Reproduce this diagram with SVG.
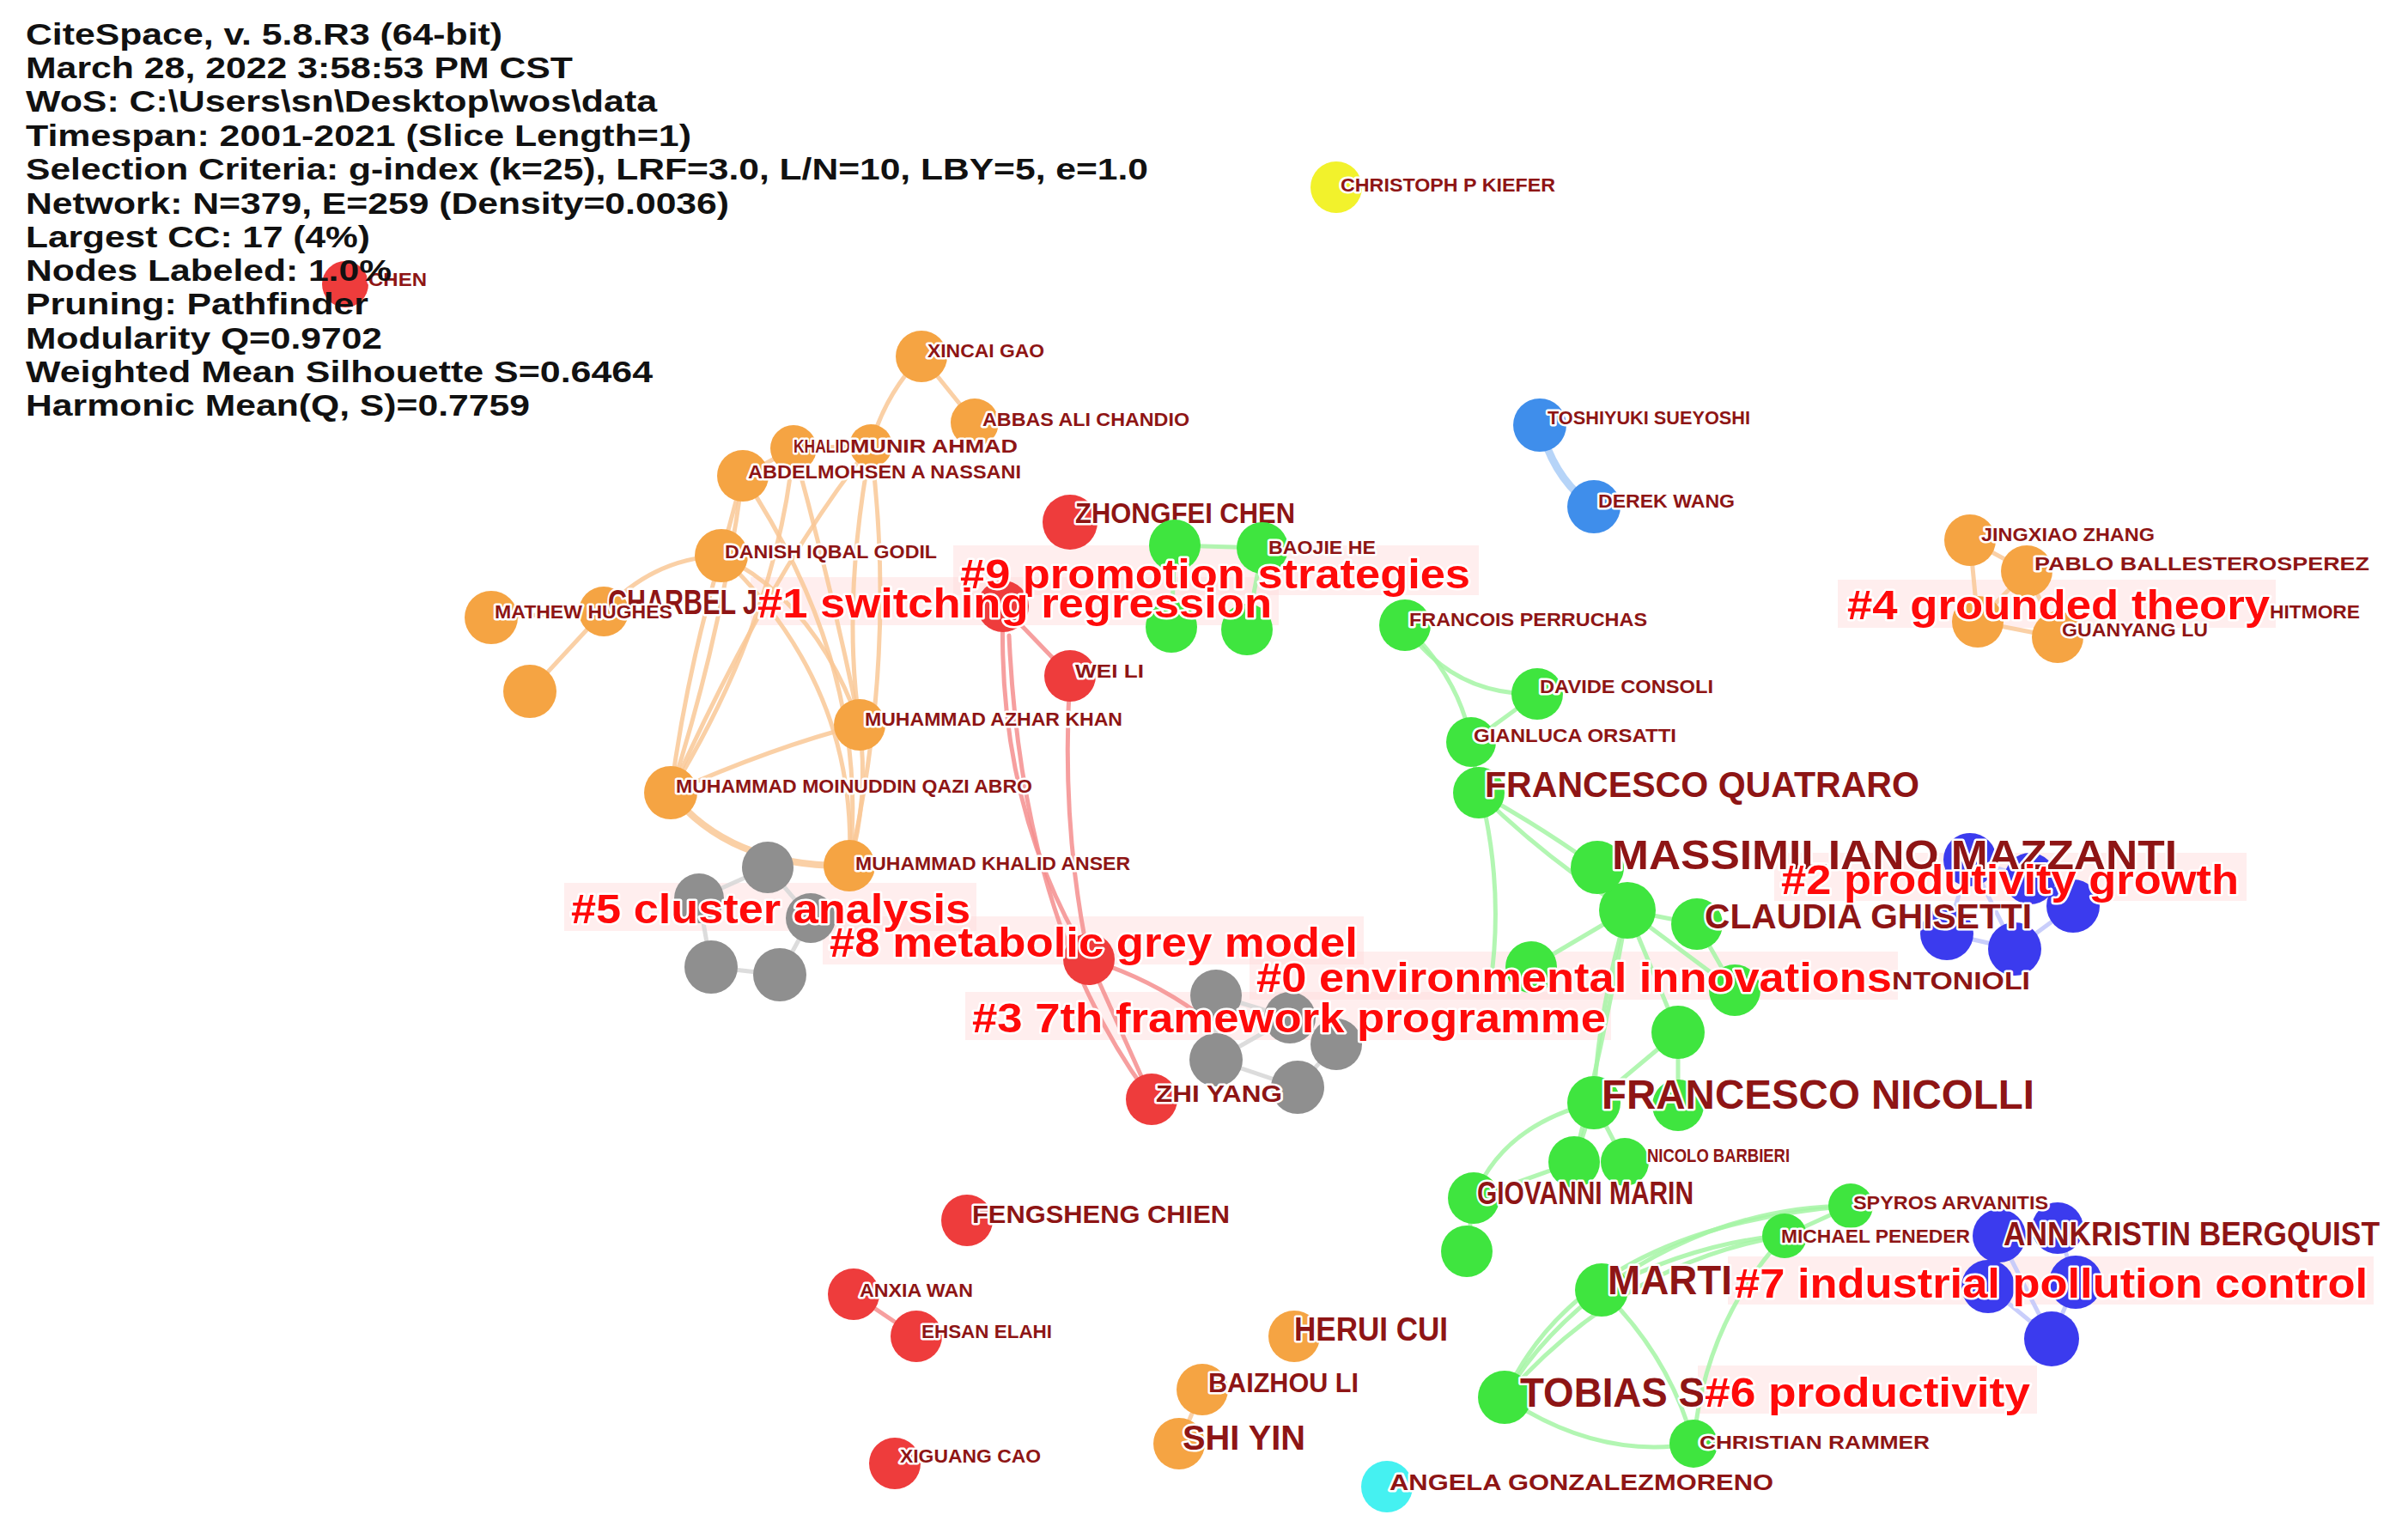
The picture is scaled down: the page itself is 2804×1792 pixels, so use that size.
<svg xmlns="http://www.w3.org/2000/svg" width="2804" height="1792" viewBox="0 0 2804 1792">
<style>
.bg{fill:#fff}
.e{fill:none;stroke-width:5;stroke-linecap:round;opacity:.85}
.eo{stroke:#F9C896}.er{stroke:#F58E8E}.eg{stroke:#A4F4A4}.eb{stroke:#BFC6FA}.elb{stroke:#A9CDF7;stroke-width:9}.ek{stroke:#D6D6D6}
.no{fill:#F5A443}.nr{fill:#EE3C3C}.ng{fill:#3FE53F}.nb{fill:#3B3BEE}.nlb{fill:#3F8EEB}.ny{fill:#F2F22C}.nc{fill:#45F1F1}.nk{fill:#8F8F8F}
.lab{font-family:"Liberation Sans",Arial,sans-serif;fill:#8E1515;stroke:#fff;stroke-width:5;stroke-linejoin:round;paint-order:stroke}
.s{font-size:22px;font-weight:bold}
.m{font-weight:bold}
.L{font-weight:bold}
.cl{font-family:"Liberation Sans",Arial,sans-serif;font-size:48px;font-weight:bold;fill:#FF0A0A;stroke:#fff;stroke-width:5;stroke-linejoin:round;paint-order:stroke}
.band{fill:#FFDADA;opacity:.45}
.hd{font-family:"Liberation Sans",Arial,sans-serif;font-size:35px;font-weight:bold;fill:#111}
</style>
<rect class="bg" x="0" y="0" width="2804" height="1792"/>

<g id="bands">
<rect class="band" x="1110" y="635" width="612" height="58"/>
<rect class="band" x="874" y="672" width="615" height="56"/>
<rect class="band" x="2140" y="675" width="510" height="56"/>
<rect class="band" x="2066" y="993" width="550" height="56"/>
<rect class="band" x="657" y="1028" width="480" height="56"/>
<rect class="band" x="958" y="1067" width="630" height="56"/>
<rect class="band" x="1455" y="1108" width="755" height="56"/>
<rect class="band" x="1124" y="1155" width="752" height="56"/>
<rect class="band" x="2012" y="1463" width="752" height="56"/>
<rect class="band" x="1977" y="1590" width="395" height="56"/>
</g>

<g id="connectors">
<path class="e eo" d="M1073,415 L1135,492"/>
<path class="e eo" d="M1073,415 Q1030,460 1014,519"/>
<path class="e eo" d="M1014,519 Q1045,760 989,1008"/>
<path class="e eo" d="M924,522 Q970,690 1001,844"/>
<path class="e eo" d="M865,554 Q1015,780 989,1008"/>
<path class="e eo" d="M865,554 Q840,740 781,923"/>
<path class="e eo" d="M924,522 Q905,720 781,923"/>
<path class="e eo" d="M1014,519 Q900,660 781,923"/>
<path class="e eo" d="M840,647 Q950,700 1001,844"/>
<path class="e eo" d="M840,647 Q1000,800 989,1008"/>
<path class="e eo" style="stroke-width:8" d="M781,923 Q850,1010 989,1008"/>
<path class="e eo" d="M781,923 Q800,780 840,647"/>
<path class="e eo" d="M1001,844 Q1012,930 989,1008"/>
<path class="e eo" d="M703,712 Q760,650 840,647"/>
<path class="e eo" d="M703,712 L617,805"/>
<path class="e eo" d="M572,719 L703,712"/>
<path class="e eo" d="M865,554 L924,522 L1014,519"/>
<path class="e eo" d="M865,554 L840,647"/>
<path class="e eo" d="M1001,844 Q900,870 781,923"/>
<path class="e eo" d="M1014,519 Q980,700 1001,844"/>
<path class="e er" d="M1168,706 L1246,787"/>
<path class="e er" d="M1168,706 Q1160,940 1268,1117"/>
<path class="e er" d="M1246,787 Q1235,960 1268,1117"/>
<path class="e er" d="M1175,740 Q1190,1080 1341,1280"/>
<path class="e er" d="M1268,1117 L1341,1280"/>
<path class="e er" d="M1268,1117 Q1340,1140 1395,1180"/>
<path class="e er" d="M994,1507 L1067,1556"/>
<path class="e eg" d="M1368,635 L1470,638"/>
<path class="e eg" d="M1368,635 L1364,730"/>
<path class="e eg" d="M1470,638 L1452,733"/>
<path class="e eg" d="M1636,728 Q1690,810 1790,808"/>
<path class="e eg" d="M1636,728 Q1700,790 1713,864"/>
<path class="e eg" d="M1790,808 L1713,864"/>
<path class="e eg" d="M1713,864 L1722,923"/>
<path class="e eg" d="M1722,923 Q1790,960 1860,1010"/>
<path class="e eg" d="M1722,923 Q1800,1000 1895,1060"/>
<path class="e eg" d="M1730,950 Q1750,1050 1735,1150"/>
<path class="e eg" d="M1860,1010 L1895,1060"/>
<path class="e eg" d="M1895,1060 L1976,1076"/>
<path class="e eg" d="M1895,1060 L1783,1126"/>
<path class="e eg" d="M1895,1060 L1954,1202"/>
<path class="e eg" d="M1895,1060 Q1860,1180 1856,1284"/>
<path class="e eg" d="M1895,1060 L2020,1153"/>
<path class="e eg" d="M1976,1076 L2020,1153"/>
<path class="e eg" d="M1954,1202 L1856,1284"/>
<path class="e eg" d="M1954,1202 L1954,1287"/>
<path class="e eg" d="M1856,1284 L1833,1353"/>
<path class="e eg" d="M1856,1284 L1892,1353"/>
<path class="e eg" d="M1856,1284 Q1750,1310 1716,1395"/>
<path class="e eg" d="M1833,1353 L1716,1395"/>
<path class="e eg" d="M1716,1395 L1708,1457"/>
<path class="e eg" d="M1895,1060 Q1870,1200 1833,1353"/>
<path class="e eg" d="M1865,1502 Q2000,1405 2155,1404"/>
<path class="e eg" d="M1865,1502 Q1980,1445 2078,1439"/>
<path class="e eg" d="M1865,1502 Q1790,1560 1752,1627"/>
<path class="e eg" d="M1865,1502 Q1945,1580 1972,1681"/>
<path class="e eg" d="M1752,1627 Q1840,1430 2155,1404"/>
<path class="e eg" d="M1752,1627 Q1890,1470 2078,1439"/>
<path class="e eg" d="M1752,1627 Q1860,1700 1972,1681"/>
<path class="e eg" d="M2155,1404 L2078,1439"/>
<path class="e eg" d="M1972,1681 Q1985,1540 2078,1439"/>
<path class="e elb" d="M1793,495 Q1810,560 1856,590"/>
<path class="e eb" d="M2294,1001 L2364,1023 L2414,1055 L2346,1105 L2267,1087 L2294,1001"/>
<path class="e eb" d="M2294,1001 L2346,1105"/>
<path class="e eb" d="M2328,1439 L2396,1430 L2417,1493 L2389,1559 L2315,1498 L2328,1439"/>
<path class="e eb" d="M2328,1439 L2389,1559"/>
<path class="e ek" d="M894,1010 L814,1046 L828,1126 L908,1135 L944,1069 L894,1010"/>
<path class="e ek" d="M1416,1159 L1502,1185 L1556,1216 L1511,1266 L1416,1234 L1416,1159"/>
<path class="e ek" d="M1502,1185 L1416,1234"/>
<path class="e eo" d="M2294,629 L2360,665 L2396,742 L2303,724 L2294,629"/>
<path class="e eo" d="M2360,665 L2303,724"/>
<path class="e eo" d="M1400,1618 L1373,1681"/>
</g>

<g id="node-b2a"><circle class="nb" cx="2294" cy="1001" r="31"/></g>
<g id="node-b2b"><circle class="nb" cx="2364" cy="1023" r="30"/></g>
<g id="node-b2c"><circle class="nb" cx="2414" cy="1055" r="31"/></g>
<g id="node-b2d"><circle class="nb" cx="2267" cy="1087" r="31"/></g>
<g id="node-b2e"><circle class="nb" cx="2346" cy="1105" r="31"/></g>
<g id="node-b7a"><circle class="nb" cx="2328" cy="1439" r="31"/></g>
<g id="node-b7b"><circle class="nb" cx="2396" cy="1430" r="30"/></g>
<g id="node-b7c"><circle class="nb" cx="2315" cy="1498" r="31"/></g>
<g id="node-b7d"><circle class="nb" cx="2417" cy="1493" r="31"/></g>
<g id="node-b7e"><circle class="nb" cx="2389" cy="1559" r="32"/></g>
<g id="node-k5a"><circle class="nk" cx="894" cy="1010" r="30"/></g>
<g id="node-k5b"><circle class="nk" cx="814" cy="1046" r="29"/></g>
<g id="node-k5c"><circle class="nk" cx="944" cy="1069" r="29"/></g>
<g id="node-k5d"><circle class="nk" cx="828" cy="1126" r="31"/></g>
<g id="node-k5e"><circle class="nk" cx="908" cy="1135" r="31"/></g>
<g id="node-k3a"><circle class="nk" cx="1416" cy="1159" r="30"/></g>
<g id="node-k3b"><circle class="nk" cx="1502" cy="1185" r="30"/></g>
<g id="node-k3c"><circle class="nk" cx="1556" cy="1216" r="30"/></g>
<g id="node-k3d"><circle class="nk" cx="1416" cy="1234" r="31"/></g>
<g id="node-k3e"><circle class="nk" cx="1511" cy="1266" r="31"/></g>

<g id="node-chen"><circle class="nr" cx="402" cy="331" r="27"/><text class="lab s" x="429" y="333" textLength="68" lengthAdjust="spacingAndGlyphs">CHEN</text></g>
<g id="node-kiefer"><circle class="ny" cx="1556" cy="218" r="30"/><text class="lab s" x="1561" y="223" textLength="250" lengthAdjust="spacingAndGlyphs">CHRISTOPH P KIEFER</text></g>
<g id="node-sueyoshi"><circle class="nlb" cx="1793" cy="495" r="31"/><text class="lab s" x="1802" y="494" textLength="236" lengthAdjust="spacingAndGlyphs">TOSHIYUKI SUEYOSHI</text></g>
<g id="node-derekwang"><circle class="nlb" cx="1856" cy="590" r="31"/><text class="lab s" x="1861" y="591" textLength="159" lengthAdjust="spacingAndGlyphs">DEREK WANG</text></g>

<g id="node-xincaigao"><circle class="no" cx="1073" cy="415" r="30"/><text class="lab s" x="1080" y="416" textLength="136" lengthAdjust="spacingAndGlyphs">XINCAI GAO</text></g>
<g id="node-abbas"><circle class="no" cx="1135" cy="492" r="28"/><text class="lab s" x="1144" y="496" textLength="241" lengthAdjust="spacingAndGlyphs">ABBAS ALI CHANDIO</text></g>
<g id="node-khalid"><circle class="no" cx="924" cy="522" r="27"/></g>
<g id="node-munir"><circle class="no" cx="1014" cy="519" r="25"/></g>
<g id="node-abdelmohsen"><circle class="no" cx="865" cy="554" r="30"/></g>
<g id="labels-top-orange">
<text class="lab s" x="924" y="527" textLength="66" lengthAdjust="spacingAndGlyphs">KHALID</text>
<text class="lab s" x="990" y="527" textLength="195" lengthAdjust="spacingAndGlyphs">MUNIR AHMAD</text>
<text class="lab s" x="871" y="557" textLength="318" lengthAdjust="spacingAndGlyphs">ABDELMOHSEN A NASSANI</text>
</g>
<g id="node-danish"><circle class="no" cx="840" cy="647" r="31"/><text class="lab s" x="844" y="650" textLength="247" lengthAdjust="spacingAndGlyphs">DANISH IQBAL GODIL</text></g>
<g id="node-charbel"><circle class="no" cx="703" cy="712" r="29"/><text class="lab L" x="708" y="715" font-size="40" textLength="174" lengthAdjust="spacingAndGlyphs">CHARBEL J</text></g>
<g id="node-mathew"><circle class="no" cx="572" cy="719" r="31"/><text class="lab s" x="576" y="720" textLength="207" lengthAdjust="spacingAndGlyphs">MATHEW HUGHES</text></g>
<g id="node-orange-x"><circle class="no" cx="617" cy="805" r="31"/></g>
<g id="node-azhar"><circle class="no" cx="1001" cy="844" r="30"/><text class="lab s" x="1007" y="845" textLength="300" lengthAdjust="spacingAndGlyphs">MUHAMMAD AZHAR KHAN</text></g>
<g id="node-moinuddin"><circle class="no" cx="781" cy="923" r="31"/><text class="lab s" x="787" y="923" textLength="415" lengthAdjust="spacingAndGlyphs">MUHAMMAD MOINUDDIN QAZI ABRO</text></g>
<g id="node-anser"><circle class="no" cx="989" cy="1008" r="30"/><text class="lab s" x="996" y="1013" textLength="320" lengthAdjust="spacingAndGlyphs">MUHAMMAD KHALID ANSER</text></g>

<g id="node-zhongfei"><circle class="nr" cx="1246" cy="608" r="32"/><text class="lab m" x="1252" y="609" font-size="34" textLength="256" lengthAdjust="spacingAndGlyphs">ZHONGFEI CHEN</text></g>
<g id="node-red1"><circle class="nr" cx="1168" cy="706" r="30"/></g>
<g id="node-weili"><circle class="nr" cx="1246" cy="787" r="30"/><text class="lab s" x="1252" y="789" textLength="80" lengthAdjust="spacingAndGlyphs">WEI LI</text></g>
<g id="node-red3"><circle class="nr" cx="1268" cy="1117" r="30"/></g>

<g id="node-g9a"><circle class="ng" cx="1368" cy="635" r="30"/></g>
<g id="node-baojie"><circle class="ng" cx="1470" cy="638" r="30"/><text class="lab s" x="1477" y="645" textLength="125" lengthAdjust="spacingAndGlyphs">BAOJIE HE</text></g>
<g id="node-g9c"><circle class="ng" cx="1364" cy="730" r="30"/></g>
<g id="node-g9d"><circle class="ng" cx="1452" cy="733" r="30"/></g>

<g id="node-perruchas"><circle class="ng" cx="1636" cy="728" r="30"/><text class="lab s" x="1641" y="729" textLength="277" lengthAdjust="spacingAndGlyphs">FRANCOIS PERRUCHAS</text></g>
<g id="node-consoli"><circle class="ng" cx="1790" cy="808" r="30"/><text class="lab s" x="1793" y="807" textLength="202" lengthAdjust="spacingAndGlyphs">DAVIDE CONSOLI</text></g>
<g id="node-orsatti"><circle class="ng" cx="1713" cy="864" r="29"/><text class="lab s" x="1716" y="864" textLength="236" lengthAdjust="spacingAndGlyphs">GIANLUCA ORSATTI</text></g>
<g id="node-quatraro"><circle class="ng" cx="1722" cy="923" r="30"/><text class="lab L" x="1729" y="928" font-size="42" textLength="506" lengthAdjust="spacingAndGlyphs">FRANCESCO QUATRARO</text></g>
<g id="node-gc"><circle class="ng" cx="1895" cy="1060" r="33"/></g>
<g id="node-mazzanti"><circle class="ng" cx="1860" cy="1010" r="31"/><text class="lab L" x="1877" y="1012" font-size="48" textLength="658" lengthAdjust="spacingAndGlyphs">MASSIMILIANO MAZZANTI</text></g>
<g id="node-ghisetti"><circle class="ng" cx="1976" cy="1076" r="30"/></g>
<g id="node-g0a"><circle class="ng" cx="1783" cy="1126" r="30"/></g>
<g id="node-antonioli"><circle class="ng" cx="2020" cy="1153" r="30"/></g>
<g id="node-g0b"><circle class="ng" cx="1954" cy="1202" r="31"/></g>
<g id="node-nicolli"><circle class="ng" cx="1856" cy="1284" r="31"/></g>
<g id="node-g0c"><circle class="ng" cx="1954" cy="1287" r="30"/></g>
<g id="node-g0d"><circle class="ng" cx="1833" cy="1353" r="30"/></g>
<g id="node-barbieri"><circle class="ng" cx="1892" cy="1353" r="28"/><text class="lab s" x="1918" y="1353" textLength="166" lengthAdjust="spacingAndGlyphs">NICOLO BARBIERI</text></g>
<g id="node-marin"><circle class="ng" cx="1716" cy="1395" r="30"/><text class="lab m" x="1720" y="1402" font-size="36" textLength="252" lengthAdjust="spacingAndGlyphs">GIOVANNI MARIN</text></g>
<g id="node-g0e"><circle class="ng" cx="1708" cy="1457" r="30"/></g>
<g id="labels-g0">
<text class="lab L" x="1985" y="1081" font-size="40" textLength="381" lengthAdjust="spacingAndGlyphs">CLAUDIA GHISETTI</text>
<text class="lab m" x="2203" y="1152" font-size="30" textLength="161" lengthAdjust="spacingAndGlyphs">NTONIOLI</text>
<text class="lab L" x="1865" y="1291" font-size="48" textLength="504" lengthAdjust="spacingAndGlyphs">FRANCESCO NICOLLI</text>
</g>

<g id="node-arvanitis"><circle class="ng" cx="2155" cy="1404" r="26"/><text class="lab s" x="2158" y="1408" textLength="227" lengthAdjust="spacingAndGlyphs">SPYROS ARVANITIS</text></g>
<g id="node-peneder"><circle class="ng" cx="2078" cy="1439" r="26"/><text class="lab s" x="2074" y="1447" textLength="220" lengthAdjust="spacingAndGlyphs">MICHAEL PENEDER</text></g>
<g id="node-marti"><circle class="ng" cx="1865" cy="1502" r="31"/><text class="lab L" x="1872" y="1507" font-size="48" textLength="145" lengthAdjust="spacingAndGlyphs">MARTI</text></g>
<g id="node-tobias"><circle class="ng" cx="1752" cy="1627" r="31"/><text class="lab L" x="1770" y="1638" font-size="48" textLength="215" lengthAdjust="spacingAndGlyphs">TOBIAS S</text></g>
<g id="node-rammer"><circle class="ng" cx="1972" cy="1681" r="28"/><text class="lab s" x="1979" y="1687" textLength="268" lengthAdjust="spacingAndGlyphs">CHRISTIAN RAMMER</text></g>

<g id="label-bergquist"><text class="lab L" x="2333" y="1450" font-size="38" textLength="438" lengthAdjust="spacingAndGlyphs">ANNKRISTIN BERGQUIST</text></g>

<g id="node-jingxiao"><circle class="no" cx="2294" cy="629" r="30"/><text class="lab s" x="2307" y="630" textLength="202" lengthAdjust="spacingAndGlyphs">JINGXIAO ZHANG</text></g>
<g id="node-pablo"><circle class="no" cx="2360" cy="665" r="30"/><text class="lab s" x="2369" y="664" textLength="390" lengthAdjust="spacingAndGlyphs">PABLO BALLESTEROSPEREZ</text></g>
<g id="node-o4c"><circle class="no" cx="2303" cy="724" r="30"/></g>
<g id="node-guanyang"><circle class="no" cx="2396" cy="742" r="30"/><text class="lab s" x="2401" y="741" textLength="170" lengthAdjust="spacingAndGlyphs">GUANYANG LU</text></g>
<g id="label-hitmore"><text class="lab s" x="2643" y="720" textLength="105" lengthAdjust="spacingAndGlyphs">HITMORE</text></g>

<g id="node-zhiyang"><circle class="nr" cx="1341" cy="1280" r="30"/><text class="lab m" x="1346" y="1283" font-size="28" textLength="147" lengthAdjust="spacingAndGlyphs">ZHI YANG</text></g>
<g id="node-fengsheng"><circle class="nr" cx="1126" cy="1421" r="30"/><text class="lab m" x="1132" y="1424" font-size="30" textLength="300" lengthAdjust="spacingAndGlyphs">FENGSHENG CHIEN</text></g>
<g id="node-anxia"><circle class="nr" cx="994" cy="1507" r="30"/><text class="lab s" x="1001" y="1510" textLength="132" lengthAdjust="spacingAndGlyphs">ANXIA WAN</text></g>
<g id="node-ehsan"><circle class="nr" cx="1067" cy="1556" r="30"/><text class="lab s" x="1073" y="1558" textLength="152" lengthAdjust="spacingAndGlyphs">EHSAN ELAHI</text></g>
<g id="node-xiguang"><circle class="nr" cx="1042" cy="1704" r="30"/><text class="lab s" x="1048" y="1703" textLength="164" lengthAdjust="spacingAndGlyphs">XIGUANG CAO</text></g>
<g id="node-herui"><circle class="no" cx="1507" cy="1556" r="30"/><text class="lab m" x="1507" y="1561" font-size="38" textLength="179" lengthAdjust="spacingAndGlyphs">HERUI CUI</text></g>
<g id="node-baizhou"><circle class="no" cx="1400" cy="1618" r="30"/><text class="lab m" x="1407" y="1621" font-size="32" textLength="175" lengthAdjust="spacingAndGlyphs">BAIZHOU LI</text></g>
<g id="node-shiyin"><circle class="no" cx="1373" cy="1681" r="30"/><text class="lab m" x="1377" y="1688" font-size="40" textLength="143" lengthAdjust="spacingAndGlyphs">SHI YIN</text></g>
<g id="node-angela"><circle class="nc" cx="1615" cy="1731" r="30"/><text class="lab m" x="1618" y="1735" font-size="26" textLength="447" lengthAdjust="spacingAndGlyphs">ANGELA GONZALEZMORENO</text></g>

<g id="cluster-labels">
<text class="cl" x="1118" y="685" textLength="594" lengthAdjust="spacingAndGlyphs">#9 promotion strategies</text>
<text class="cl" x="882" y="719" textLength="599" lengthAdjust="spacingAndGlyphs">#1 switching regression</text>
<text class="cl" x="2151" y="721" textLength="492" lengthAdjust="spacingAndGlyphs">#4 grounded theory</text>
<text class="cl" x="2074" y="1041" textLength="533" lengthAdjust="spacingAndGlyphs">#2 produtivity growth</text>
<text class="cl" x="665" y="1075" textLength="465" lengthAdjust="spacingAndGlyphs">#5 cluster analysis</text>
<text class="cl" x="966" y="1114" textLength="615" lengthAdjust="spacingAndGlyphs">#8 metabolic grey model</text>
<text class="cl" x="1463" y="1155" textLength="740" lengthAdjust="spacingAndGlyphs">#0 environmental innovations</text>
<text class="cl" x="1132" y="1202" textLength="738" lengthAdjust="spacingAndGlyphs">#3 7th framework programme</text>
<text class="cl" x="2020" y="1511" textLength="737" lengthAdjust="spacingAndGlyphs">#7 industrial pollution control</text>
<text class="cl" x="1985" y="1638" textLength="379" lengthAdjust="spacingAndGlyphs">#6 productivity</text>
</g>

<g id="header">
<text class="hd" x="30" y="52" textLength="555" lengthAdjust="spacingAndGlyphs">CiteSpace, v. 5.8.R3 (64-bit)</text>
<text class="hd" x="30" y="91" textLength="637" lengthAdjust="spacingAndGlyphs">March 28, 2022 3:58:53 PM CST</text>
<text class="hd" x="30" y="130" textLength="735" lengthAdjust="spacingAndGlyphs">WoS: C:\Users\sn\Desktop\wos\data</text>
<text class="hd" x="30" y="170" textLength="775" lengthAdjust="spacingAndGlyphs">Timespan: 2001-2021 (Slice Length=1)</text>
<text class="hd" x="30" y="209" textLength="1307" lengthAdjust="spacingAndGlyphs">Selection Criteria: g-index (k=25), LRF=3.0, L/N=10, LBY=5, e=1.0</text>
<text class="hd" x="30" y="249" textLength="819" lengthAdjust="spacingAndGlyphs">Network: N=379, E=259 (Density=0.0036)</text>
<text class="hd" x="30" y="288" textLength="401" lengthAdjust="spacingAndGlyphs">Largest CC: 17 (4%)</text>
<text class="hd" x="30" y="327" textLength="426" lengthAdjust="spacingAndGlyphs">Nodes Labeled: 1.0%</text>
<text class="hd" x="30" y="366" textLength="399" lengthAdjust="spacingAndGlyphs">Pruning: Pathfinder</text>
<text class="hd" x="30" y="406" textLength="415" lengthAdjust="spacingAndGlyphs">Modularity Q=0.9702</text>
<text class="hd" x="30" y="445" textLength="730" lengthAdjust="spacingAndGlyphs">Weighted Mean Silhouette S=0.6464</text>
<text class="hd" x="30" y="484" textLength="587" lengthAdjust="spacingAndGlyphs">Harmonic Mean(Q, S)=0.7759</text>
</g>
</svg>
